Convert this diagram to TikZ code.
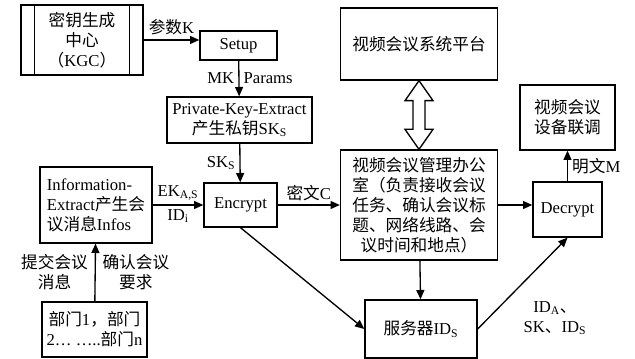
\documentclass[tikz,border=0pt]{standalone}
\usepackage{fontspec}
\setmainfont{Liberation Serif}
\newfontfamily\cjk{Noto Sans CJK SC}
\newcommand{\zh}[1]{{\cjk #1}}
\usetikzlibrary{arrows.meta, positioning, calc}
\tikzset{
  every picture/.style={line width=1pt},
  box/.style={draw, align=center, inner sep=2pt, font=\fontsize{12.5pt}{15pt}\selectfont},
  arrow/.style={-{Triangle[length=7pt, width=6pt]}, line width=1pt},
  lbl/.style={font=\fontsize{12.5pt}{15pt}\selectfont, align=center, inner sep=3pt},
}

\begin{document}
\begin{tikzpicture}[x=0.75pt, y=-0.75pt]
  \useasboundingbox (0,0) rectangle (635,359);
  % key generation side
  \node[box, minimum width=91.5pt, minimum height=52.5pt] (kgc) at (82,40) {\zh{密钥生成}\\ \zh{中心}\\ \zh{（}KGC\zh{）}};
  \draw ([xshift=10.5pt]kgc.north west) -- ([xshift=10.5pt]kgc.south west);
  \draw ([xshift=-10.5pt]kgc.north east) -- ([xshift=-10.5pt]kgc.south east);
  \node[box, minimum width=57.75pt, minimum height=21.75pt] (setup) at (238.5,45.5) {Setup};
  \node[box, minimum width=108.75pt, minimum height=34.5pt] (pke) at (239.5,120) {Private-Key-Extract\\ \zh{产生私钥}SK\textsubscript{S}};
  \node[box, minimum width=54.75pt, minimum height=33pt] (encrypt) at (240.5,205) {Encrypt};
  \node[box, minimum width=84pt, minimum height=57pt, align=left] (info) at (96,205) {Information-\\ Extract\zh{产生会}\\ \zh{议消息}Infos};
  \node[box, minimum width=78.75pt, minimum height=41.25pt] (dept) at (94.5,329.5) {\zh{部门}1\zh{，部门}\\ 2… …..\zh{部门}n};
  % conference side
  \node[box, minimum width=117.75pt, minimum height=54pt] (platform) at (419,44) {\zh{视频会议系统平台}};
  \node[box, minimum width=117.75pt, minimum height=82.5pt] (office) at (419,205) {\zh{视频会议管理办公}\\ \zh{室（负责接收会议}\\ \zh{任务、确认会议标}\\ \zh{题、网络线路、会}\\ \zh{议时间和地点）}};
  \node[box, minimum width=51.75pt, minimum height=41.25pt] (decrypt) at (567.5,209.5) {Decrypt};
  \node[box, minimum width=71.25pt, minimum height=48.75pt] (device) at (567.5,117.5) {\zh{视频会议}\\ \zh{设备联调}};
  \node[box, minimum width=84pt, minimum height=43.5pt] (server) at (421,329) {\zh{服务器}ID\textsubscript{S}};

  \draw[arrow] (kgc.east) -- node[lbl, above] {\zh{参数}K} (kgc.east -| setup.west);
  \draw[arrow] (setup) -- node[lbl, left] {MK} node[lbl, right] {Params} (pke);
  \draw[arrow] (pke) -- node[lbl, left] {SK\textsubscript{S}} (encrypt);
  \draw[arrow] (info) -- node[lbl, above] {EK\textsubscript{A,S}} node[lbl, below] {ID\textsubscript{i}} (encrypt);
  \draw[arrow] (dept) -- node[lbl, left, inner sep=5pt] {\zh{提交会议}\\ \zh{消息}} node[lbl, right, inner sep=5pt] {\zh{确认会议}\\ \zh{要求}} (info);
  \draw[arrow] (encrypt) -- node[lbl, above] {\zh{密文}C} (office);
  \draw[arrow] (office.east) -- (office.east -| decrypt.west);
  \draw[arrow] (decrypt) -- node[lbl, right] {\zh{明文}M} (device);
  \draw[arrow] (office) -- (server);
  \draw[arrow] (encrypt.south) -- (server.west);
  \draw[arrow] (server.east) -- node[lbl, pos=0.4, anchor=north west, xshift=4pt, yshift=-3pt] {ID\textsubscript{A}\zh{、}\\ SK\zh{、}ID\textsubscript{S}} (decrypt.south);
  % hollow two-way link
  \draw (platform.south) -- ($(platform.south)+(14,20)$) -- ($(platform.south)+(6,20)$)
    -- ($(office.north)+(6,-20)$) -- ($(office.north)+(14,-20)$) -- (office.north)
    -- ($(office.north)+(-14,-20)$) -- ($(office.north)+(-6,-20)$)
    -- ($(platform.south)+(-6,20)$) -- ($(platform.south)+(-14,20)$) -- cycle;
\end{tikzpicture}
\end{document}
